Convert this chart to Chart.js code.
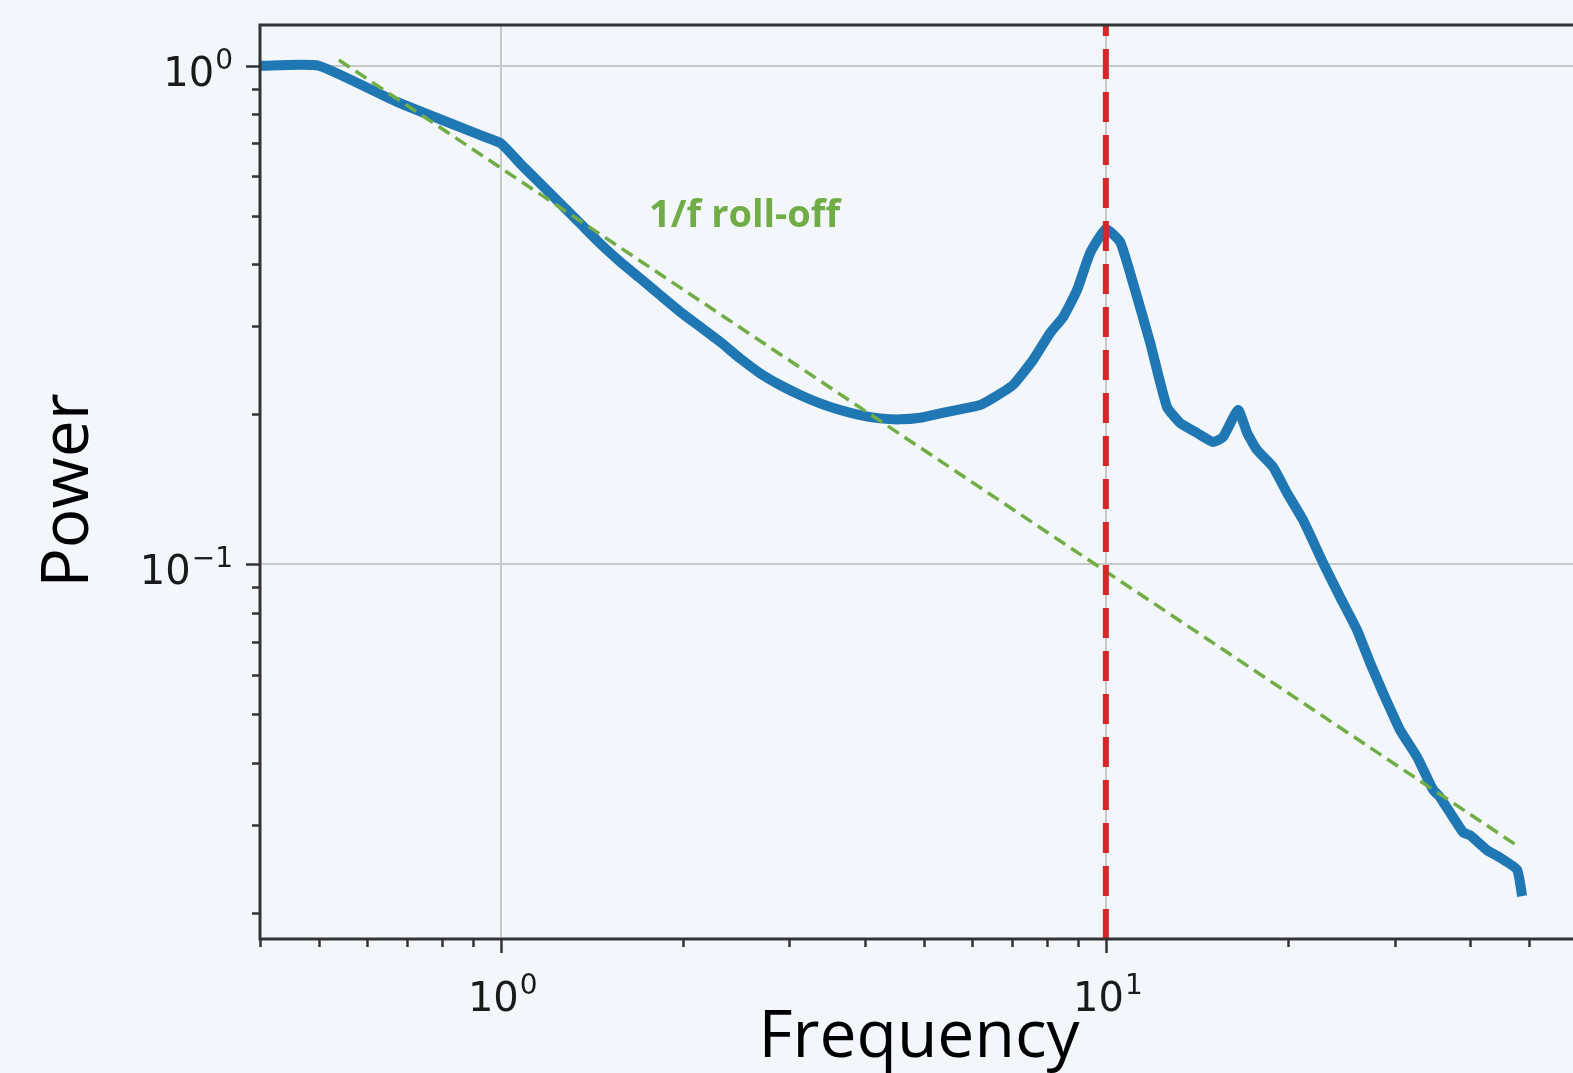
<!DOCTYPE html>
<html><head><meta charset="utf-8">
<script src="https://cdn.jsdelivr.net/npm/chart.js@4.4.1/dist/chart.umd.min.js"></script>
<style>
html,body{margin:0;padding:0;background:#f3f6fb;overflow:hidden;}
#wrap{width:1578px;height:1073px;position:relative;}
</style></head><body>
<div id="wrap"><canvas id="c"></canvas></div>
<script>
// ---- data ----
const freq  = [0.4, 0.5, 0.6735, 0.924, 1.0, 1.076, 1.161, 1.253, 1.352, 1.459, 1.575, 1.699, 1.833, 1.978, 2.135, 2.303, 2.486, 2.683, 2.894, 3.124, 3.371, 3.637, 3.925, 4.236, 4.571, 4.932, 5.322, 5.742, 6.197, 6.511, 7.024, 7.58, 8.087, 8.499, 8.962, 9.417, 10.0, 10.56, 11.09, 11.84, 12.62, 13.27, 14.15, 15.04, 15.62, 16.54, 17.12, 17.78, 18.9, 19.93, 21.18, 22.86, 24.38, 26.01, 27.34, 28.72, 30.64, 32.68, 34.74, 35.68, 38.94, 39.99, 42.67, 44.83, 47.83, 48.75];
const power = [1.0, 1.0, 0.846, 0.726, 0.699, 0.637, 0.581, 0.530, 0.483, 0.440, 0.4045, 0.3747, 0.3468, 0.3211, 0.2996, 0.2796, 0.2588, 0.2416, 0.2289, 0.2186, 0.2103, 0.2039, 0.1992, 0.1962, 0.1953, 0.1968, 0.2008, 0.2046, 0.2087, 0.2155, 0.2289, 0.2569, 0.291, 0.3133, 0.3549, 0.421, 0.4705, 0.443, 0.3666, 0.2779, 0.2068, 0.192, 0.1834, 0.1759, 0.18, 0.204, 0.1834, 0.1695, 0.1567, 0.139, 0.1227, 0.1006, 0.086, 0.0738, 0.0634, 0.0552, 0.0465, 0.0411, 0.0353, 0.0341, 0.029, 0.0286, 0.0267, 0.0258, 0.0244, 0.0216];
const fitFreq  = [0.54, 48.2];
const fitPower = [1.027, 0.0271];
const peakFreq  = [10, 10];
const peakPower = [0.01772, 1.207];
const xTicks = [0.4, 0.5, 0.6, 0.7, 0.8, 0.9, 1, 2, 3, 4, 5, 6, 7, 8, 9, 10, 20, 30, 40, 50, 60];
const xMajor = [1, 10];
const xMajorExp = ['0', '1'];
const yTicks = [0.02, 0.03, 0.04, 0.05, 0.06, 0.07, 0.08, 0.09, 0.1, 0.2, 0.3, 0.4, 0.5, 0.6, 0.7, 0.8, 0.9, 1];
const yMajor = [0.1, 1];
const yMajorExp = ['\u22121', '0'];
const annotationText = '1/f roll-off';
const annotationAt = [2.53, 0.50];
const xRange = [0.4, 60.3];
const yRange = [0.01772, 1.207];

function majorIndex(list, v){ return list.findIndex(m => Math.abs(m - v) / m < 1e-6); }

const BASE_FONT = '40px "DejaVu Sans"';
const SUP_FONT = '28px "DejaVu Sans"';
function drawPow(ctx, exp, anchorX, baseline, align){
  ctx.font = BASE_FONT; const w1 = ctx.measureText('10').width;
  ctx.font = SUP_FONT;  const w2 = ctx.measureText(exp).width;
  const total = w1 + w2 + 1;
  const x0 = align === 'center' ? anchorX - total / 2 : anchorX - total;
  ctx.textAlign = 'left'; ctx.textBaseline = 'alphabetic';
  ctx.font = BASE_FONT; ctx.fillText('10', x0, baseline);
  ctx.font = SUP_FONT;  ctx.fillText(exp, x0 + w1 + 1, baseline - 17);
}

const framePlugin = {
  id: 'frame',
  afterDatasetsDraw(chart){
    const {ctx, chartArea: a, scales: {x, y}} = chart;
    ctx.save();
    ctx.strokeStyle = '#333333';
    ctx.lineWidth = 2.5;
    x.ticks.forEach(t => {
      const px = Math.round(x.getPixelForValue(t.value)) + 0.5;
      const len = majorIndex(xMajor, t.value) >= 0 ? 14 : 8;
      ctx.beginPath(); ctx.moveTo(px, a.bottom); ctx.lineTo(px, a.bottom + len); ctx.stroke();
    });
    y.ticks.forEach(t => {
      const py = Math.round(y.getPixelForValue(t.value)) + 0.5;
      const len = majorIndex(yMajor, t.value) >= 0 ? 14 : 8;
      ctx.beginPath(); ctx.moveTo(a.left, py); ctx.lineTo(a.left - len, py); ctx.stroke();
    });
    ctx.lineWidth = 3;
    ctx.strokeRect(a.left, a.top, a.right - a.left, a.bottom - a.top);
    // tick labels
    ctx.fillStyle = '#1a1a1a';
    xMajor.forEach((v, i) => drawPow(ctx, xMajorExp[i], x.getPixelForValue(v) + 2, a.bottom + 72, 'center'));
    yMajor.forEach((v, i) => drawPow(ctx, yMajorExp[i], a.left - 27, y.getPixelForValue(v) + 20, 'right'));
    // annotation
    ctx.fillStyle = '#70ad47';
    ctx.font = 'bold 38px "Open Sans"';
    ctx.textAlign = 'center';
    ctx.textBaseline = 'middle';
    ctx.fillText(annotationText, x.getPixelForValue(annotationAt[0]), y.getPixelForValue(annotationAt[1]));
    ctx.restore();
  }
};

new Chart(document.getElementById('c'), {
  type: 'line',
  data: {
    datasets: [
      { data: peakFreq.map((f, i) => ({x: f, y: peakPower[i]})), borderColor: '#d62728', borderWidth: 6, borderDash: [30, 13], pointRadius: 0, order: 0 },
      { data: fitFreq.map((f, i) => ({x: f, y: fitPower[i]})), borderColor: '#70ad47', borderWidth: 3.5, borderDash: [13, 7], pointRadius: 0, order: 1 },
      { data: freq.map((f, i) => ({x: f, y: power[i]})), borderColor: '#1f77b4', borderWidth: 10, borderJoinStyle: 'round', tension: 0.15, pointRadius: 0, order: 2 }
    ]
  },
  options: {
    responsive: true, maintainAspectRatio: false, animation: false,
    layout: { padding: { top: 25, left: 0, right: 0, bottom: 0 } },
    plugins: { legend: { display: false }, tooltip: { enabled: false } },
    scales: {
      x: {
        type: 'logarithmic', min: xRange[0], max: xRange[1],
        afterBuildTicks: s => { s.ticks = xTicks.map(v => ({ value: v, major: majorIndex(xMajor, v) >= 0 })); },
        afterFit: s => { s.height = 134; s.paddingLeft = 0; s.paddingRight = 0; },
        ticks: { display: false, autoSkip: false, maxRotation: 0 },
        grid: { drawTicks: false, lineWidth: 2, color: c => (c.tick && majorIndex(xMajor, c.tick.value) >= 0) ? '#c8c8c8' : 'rgba(0,0,0,0)' },
        border: { display: false },
        title: { display: true, text: 'Frequency', color: '#000', font: { family: 'Open Sans', size: 66, lineHeight: 1.05 }, padding: { top: 0, bottom: 0 } }
      },
      y: {
        type: 'logarithmic', min: yRange[0], max: yRange[1],
        afterBuildTicks: s => { s.ticks = yTicks.map(v => ({ value: v, major: majorIndex(yMajor, v) >= 0 })); },
        afterFit: s => { s.width = 260; s.paddingTop = 0; s.paddingBottom = 0; },
        ticks: { display: false, autoSkip: false },
        grid: { drawTicks: false, lineWidth: 2, color: c => (c.tick && majorIndex(yMajor, c.tick.value) >= 0) ? '#c8c8c8' : 'rgba(0,0,0,0)' },
        border: { display: false },
        title: { display: true, text: 'Power ', color: '#000', font: { family: 'Open Sans', size: 66, lineHeight: 1.05 }, padding: { top: 35, bottom: 0 } }
      }
    }
  },
  plugins: [framePlugin]
});
</script>
</body></html>
